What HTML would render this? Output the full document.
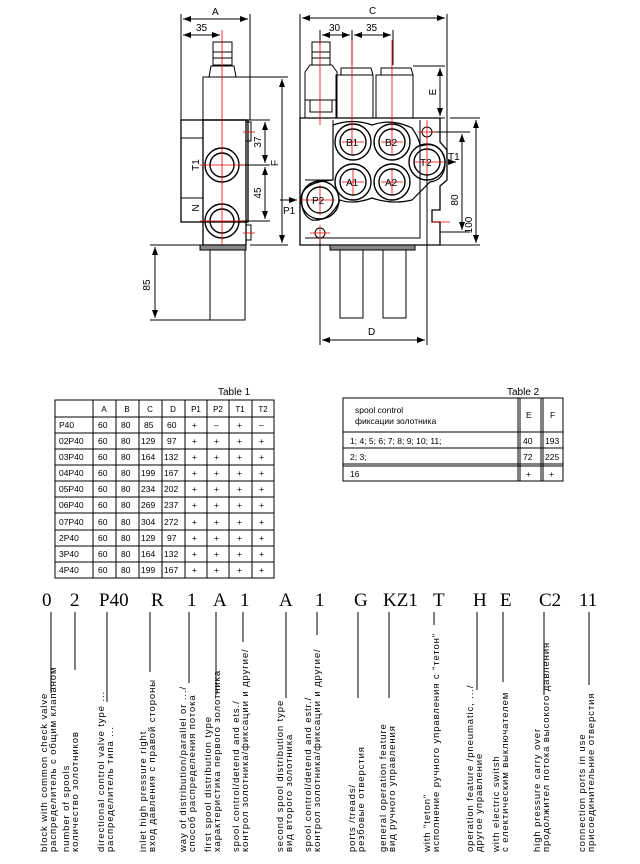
<!DOCTYPE html>
<html><head><meta charset="utf-8"><style>
html,body{margin:0;padding:0;background:#fff}
svg{display:block}
text{font-family:"Liberation Sans","DejaVu Sans",sans-serif;fill:#000}
.code text{font-family:"Liberation Serif",serif;font-size:19px}
.r text{font-size:9.5px;letter-spacing:0.9px}
</style></head><body>
<svg width="640" height="864" viewBox="0 0 640 864" xmlns="http://www.w3.org/2000/svg">
<defs>
<marker id="ar" markerWidth="8" markerHeight="6" refX="8" refY="3" orient="auto-start-reverse"><path d="M0,0 L8,3 L0,6 z" fill="#000"/></marker>
</defs>
<g stroke="#000" stroke-width="1" fill="none">
<line x1="181" y1="14" x2="181" y2="120"/><line x1="250" y1="14" x2="250" y2="77"/>
<line x1="183" y1="19" x2="248" y2="19" marker-start="url(#ar)" marker-end="url(#ar)"/>
<line x1="183" y1="35" x2="220" y2="35" marker-start="url(#ar)" marker-end="url(#ar)"/>
<rect x="213" y="42" width="19" height="23"/><line x1="213" y1="52" x2="232" y2="52"/><line x1="213" y1="58" x2="232" y2="58"/>
<path d="M209,77 L211,66 L234,66 L236,77"/>
<rect x="203" y="77" width="47" height="43"/>
<rect x="181" y="120" width="67" height="102" stroke-width="1.3"/>
<rect x="203" y="120" width="43" height="125" stroke-width="1.3"/>
<line x1="181" y1="138" x2="203" y2="138"/><line x1="181" y1="198" x2="203" y2="198"/>
<rect x="246" y="122" width="5" height="19"/><rect x="246" y="225" width="5" height="15"/>
<circle cx="222" cy="165" r="17" stroke-width="1.4"/><circle cx="222" cy="165" r="12" stroke-width="1.4"/>
<circle cx="222" cy="221" r="17" stroke-width="1.4"/><circle cx="222" cy="221" r="12" stroke-width="1.4"/>
<rect x="200" y="245" width="46" height="5" fill="#888"/>
<rect x="210" y="250" width="35" height="70"/>
<line x1="150" y1="245" x2="200" y2="245"/><line x1="150" y1="320" x2="210" y2="320"/>
<line x1="155" y1="247" x2="155" y2="318" marker-start="url(#ar)" marker-end="url(#ar)"/>
<line x1="250" y1="77" x2="288" y2="77"/><line x1="250" y1="245" x2="288" y2="245"/>
<line x1="282" y1="79" x2="282" y2="243" marker-start="url(#ar)" marker-end="url(#ar)"/>
<line x1="250" y1="120" x2="270" y2="120"/><line x1="240" y1="165" x2="270" y2="165"/><line x1="240" y1="221" x2="270" y2="221"/>
<line x1="265" y1="122" x2="265" y2="163" marker-start="url(#ar)" marker-end="url(#ar)"/>
<line x1="265" y1="167" x2="265" y2="219" marker-start="url(#ar)" marker-end="url(#ar)"/>

<line x1="300" y1="14" x2="300" y2="118"/><line x1="447" y1="14" x2="447" y2="150"/>
<line x1="302" y1="18" x2="445" y2="18" marker-start="url(#ar)" marker-end="url(#ar)"/>
<line x1="320" y1="30" x2="320" y2="45"/><line x1="352" y1="30" x2="352" y2="65"/><line x1="393" y1="30" x2="393" y2="65"/>
<line x1="322" y1="35" x2="350" y2="35" marker-start="url(#ar)" marker-end="url(#ar)"/>
<line x1="354" y1="35" x2="391" y2="35" marker-start="url(#ar)" marker-end="url(#ar)"/>
<rect x="312" y="42" width="18" height="23"/><line x1="312" y1="52" x2="330" y2="52"/><line x1="312" y1="58" x2="330" y2="58"/>
<path d="M305,100 L305,72 L310,65 L332,65 L337,72 L337,118"/>
<rect x="305" y="100" width="32" height="18"/><rect x="310" y="100" width="22" height="12"/>
<rect x="336" y="75" width="37" height="43"/><path d="M341,75 L341,68 L371,68 L373,75"/>
<rect x="376" y="75" width="37" height="43"/><path d="M381,75 L381,68 L411,68 L413,75"/>
<line x1="413" y1="66" x2="445" y2="66"/><line x1="413" y1="118" x2="445" y2="118"/>
<line x1="440" y1="68" x2="440" y2="116" marker-start="url(#ar)" marker-end="url(#ar)"/>
<path d="M300,118 L440,118 L440,142 L447,150 L447,180 L440,186 L440,210 L432,210 L432,222 L440,222 L440,245 L300,245 Z" stroke-width="1.3"/>
<path d="M305,180 L333,180 L333,120 M305,238 L420,238 L420,120"/>
<path d="M333,125 Q353,118 372,125 Q392,118 412,128 Q420,140 420,146 Q440,140 445,160 Q446,180 430,182 L412,200 Q392,205 372,198 Q353,205 340,200 Q330,222 312,220 Q300,215 302,195 Q305,182 333,180 Z" stroke-width="1.2"/>
<g stroke-width="1.4">
<circle cx="353" cy="142" r="18"/><circle cx="353" cy="142" r="13"/>
<circle cx="392" cy="142" r="18"/><circle cx="392" cy="142" r="13"/>
<circle cx="353" cy="182" r="18"/><circle cx="353" cy="182" r="13"/>
<circle cx="392" cy="182" r="18"/><circle cx="392" cy="182" r="13"/>
<circle cx="427" cy="162" r="18"/><circle cx="427" cy="162" r="13"/>
<circle cx="320" cy="200" r="19"/><circle cx="320" cy="200" r="13"/>
</g>
<circle cx="427" cy="132" r="5"/><circle cx="320" cy="233" r="5"/>
<rect x="330" y="245" width="85" height="5" fill="#888"/>
<rect x="340" y="250" width="23" height="68"/><rect x="383" y="250" width="23" height="68"/>
<line x1="320" y1="238" x2="320" y2="345"/><line x1="427" y1="175" x2="427" y2="345"/>
<line x1="322" y1="340" x2="425" y2="340" marker-start="url(#ar)" marker-end="url(#ar)"/>
<line x1="430" y1="132" x2="470" y2="132"/><line x1="440" y1="232" x2="470" y2="232"/>
<line x1="450" y1="118" x2="480" y2="118"/><line x1="440" y1="245" x2="480" y2="245"/>
<line x1="462" y1="134" x2="462" y2="230" marker-start="url(#ar)" marker-end="url(#ar)"/>
<line x1="476" y1="120" x2="476" y2="243" marker-start="url(#ar)" marker-end="url(#ar)"/>
<line x1="280" y1="200" x2="297" y2="200" marker-end="url(#ar)"/>
<line x1="448" y1="162" x2="456" y2="162" marker-end="url(#ar)"/>
</g>
<g stroke="#e00" stroke-width="0.8">
<line x1="222" y1="30" x2="222" y2="245"/><line x1="200" y1="165" x2="245" y2="165"/><line x1="200" y1="221" x2="245" y2="221"/>
<line x1="243" y1="132" x2="255" y2="132"/><line x1="243" y1="233" x2="255" y2="233"/>
<line x1="320" y1="40" x2="320" y2="125"/><line x1="352" y1="40" x2="352" y2="155"/><line x1="392" y1="40" x2="392" y2="155"/>
<line x1="342" y1="142" x2="364" y2="142"/><line x1="381" y1="142" x2="403" y2="142"/>
<line x1="353" y1="170" x2="353" y2="195"/><line x1="342" y1="182" x2="364" y2="182"/>
<line x1="392" y1="170" x2="392" y2="195"/><line x1="381" y1="182" x2="403" y2="182"/>
<line x1="427" y1="120" x2="427" y2="175"/><line x1="415" y1="162" x2="445" y2="162"/><line x1="418" y1="132" x2="436" y2="132"/>
<line x1="320" y1="185" x2="320" y2="215"/><line x1="300" y1="200" x2="335" y2="200"/>
<line x1="320" y1="225" x2="320" y2="242"/><line x1="310" y1="233" x2="330" y2="233"/>
<line x1="432" y1="222" x2="450" y2="222"/>
</g>
<g font-size="10">
<text x="212" y="15">A</text><text x="196" y="31">35</text>
<text x="369" y="14">C</text><text x="329" y="31">30</text><text x="366" y="31">35</text>
<text x="368" y="335">D</text>
<text x="199" y="165" transform="rotate(-90 199 165)" text-anchor="middle">T1</text>
<text x="199" y="208" transform="rotate(-90 199 208)" text-anchor="middle">N</text>
<text x="150" y="285" transform="rotate(-90 150 285)" text-anchor="middle">85</text>
<text x="278" y="163" transform="rotate(-90 278 163)" text-anchor="middle">F</text>
<text x="261" y="142" transform="rotate(-90 261 142)" text-anchor="middle">37</text>
<text x="261" y="193" transform="rotate(-90 261 193)" text-anchor="middle">45</text>
<text x="436" y="92" transform="rotate(-90 436 92)" text-anchor="middle">E</text>
<text x="458" y="200" transform="rotate(-90 458 200)" text-anchor="middle">80</text>
<text x="472" y="225" transform="rotate(-90 472 225)" text-anchor="middle">100</text>
<text x="346" y="146">B1</text><text x="385" y="146">B2</text><text x="346" y="186">A1</text><text x="385" y="186">A2</text>
<text x="420" y="166">T2</text><text x="312" y="204">P2</text>
<text x="283" y="214">P1</text><text x="448" y="160">T1</text>
</g>

<text x="218" y="395" font-size="10">Table 1</text>
<g stroke="#000" stroke-width="1" fill="none">
<rect x="55" y="400" width="219" height="178"/>
<line x1="93" y1="400" x2="93" y2="578"/><line x1="116" y1="400" x2="116" y2="578"/><line x1="139" y1="400" x2="139" y2="578"/>
<line x1="162" y1="400" x2="162" y2="578"/><line x1="185" y1="400" x2="185" y2="578"/><line x1="207" y1="400" x2="207" y2="578"/>
<line x1="229" y1="400" x2="229" y2="578"/><line x1="252" y1="400" x2="252" y2="578"/>
<line x1="55" y1="417" x2="274" y2="417"/><line x1="55" y1="433" x2="274" y2="433"/><line x1="55" y1="449" x2="274" y2="449"/>
<line x1="55" y1="465" x2="274" y2="465"/><line x1="55" y1="481" x2="274" y2="481"/><line x1="55" y1="497" x2="274" y2="497"/>
<line x1="55" y1="513" x2="274" y2="513"/><line x1="55" y1="530" x2="274" y2="530"/><line x1="55" y1="546" x2="274" y2="546"/>
<line x1="55" y1="562" x2="274" y2="562"/>
</g>
<g font-size="8" text-anchor="middle">
<text x="104" y="412">A</text><text x="127" y="412">B</text><text x="150" y="412">C</text><text x="173" y="412">D</text><text x="196" y="412">P1</text><text x="218" y="412">P2</text><text x="240" y="412">T1</text><text x="263" y="412">T2</text>
</g>
<g font-size="8.5">
<text y="428"><tspan x="59">P40</tspan><tspan x="98">60</tspan><tspan x="121">80</tspan><tspan x="144">85</tspan><tspan x="167">60</tspan><tspan x="192">+</tspan><tspan x="214">–</tspan><tspan x="237">+</tspan><tspan x="259">–</tspan></text>
<text y="444"><tspan x="59">02P40</tspan><tspan x="98">60</tspan><tspan x="121">80</tspan><tspan x="141">129</tspan><tspan x="167">97</tspan><tspan x="192">+</tspan><tspan x="214">+</tspan><tspan x="237">+</tspan><tspan x="259">+</tspan></text>
<text y="460"><tspan x="59">03P40</tspan><tspan x="98">60</tspan><tspan x="121">80</tspan><tspan x="141">164</tspan><tspan x="164">132</tspan><tspan x="192">+</tspan><tspan x="214">+</tspan><tspan x="237">+</tspan><tspan x="259">+</tspan></text>
<text y="476"><tspan x="59">04P40</tspan><tspan x="98">60</tspan><tspan x="121">80</tspan><tspan x="141">199</tspan><tspan x="164">167</tspan><tspan x="192">+</tspan><tspan x="214">+</tspan><tspan x="237">+</tspan><tspan x="259">+</tspan></text>
<text y="492"><tspan x="59">05P40</tspan><tspan x="98">60</tspan><tspan x="121">80</tspan><tspan x="141">234</tspan><tspan x="164">202</tspan><tspan x="192">+</tspan><tspan x="214">+</tspan><tspan x="237">+</tspan><tspan x="259">+</tspan></text>
<text y="508"><tspan x="59">06P40</tspan><tspan x="98">60</tspan><tspan x="121">80</tspan><tspan x="141">269</tspan><tspan x="164">237</tspan><tspan x="192">+</tspan><tspan x="214">+</tspan><tspan x="237">+</tspan><tspan x="259">+</tspan></text>
<text y="525"><tspan x="59">07P40</tspan><tspan x="98">60</tspan><tspan x="121">80</tspan><tspan x="141">304</tspan><tspan x="164">272</tspan><tspan x="192">+</tspan><tspan x="214">+</tspan><tspan x="237">+</tspan><tspan x="259">+</tspan></text>
<text y="541"><tspan x="59">2P40</tspan><tspan x="98">60</tspan><tspan x="121">80</tspan><tspan x="141">129</tspan><tspan x="167">97</tspan><tspan x="192">+</tspan><tspan x="214">+</tspan><tspan x="237">+</tspan><tspan x="259">+</tspan></text>
<text y="557"><tspan x="59">3P40</tspan><tspan x="98">60</tspan><tspan x="121">80</tspan><tspan x="141">164</tspan><tspan x="164">132</tspan><tspan x="192">+</tspan><tspan x="214">+</tspan><tspan x="237">+</tspan><tspan x="259">+</tspan></text>
<text y="573"><tspan x="59">4P40</tspan><tspan x="98">60</tspan><tspan x="121">80</tspan><tspan x="141">199</tspan><tspan x="164">167</tspan><tspan x="192">+</tspan><tspan x="214">+</tspan><tspan x="237">+</tspan><tspan x="259">+</tspan></text>
</g>

<text x="507" y="395" font-size="10">Table 2</text>
<g stroke="#000" stroke-width="1" fill="none">
<rect x="343" y="398" width="220" height="83"/>
<line x1="518" y1="398" x2="518" y2="481"/><line x1="520" y1="398" x2="520" y2="481"/>
<line x1="541" y1="398" x2="541" y2="481"/><line x1="543" y1="398" x2="543" y2="481"/>
<line x1="343" y1="432" x2="563" y2="432"/><line x1="343" y1="448" x2="563" y2="448"/>
<line x1="343" y1="464" x2="563" y2="464"/><line x1="343" y1="466" x2="563" y2="466"/>
</g>
<g font-size="8.5">
<text x="355" y="413">spool control</text><text x="355" y="424">фиксации золотника</text>
<text x="526" y="418">E</text><text x="550" y="418">F</text>
<text x="350" y="444">1;  4;  5;  6;  7;  8;  9;  10;  11;</text><text x="523" y="444">40</text><text x="545" y="444">193</text>
<text x="350" y="460">2;  3;</text><text x="523" y="460">72</text><text x="545" y="460">225</text>
<text x="350" y="477">16</text><text x="526" y="477">+</text><text x="549" y="477">+</text>
</g>

<g class="code">
<text x="42" y="606">0</text><text x="70" y="606">2</text><text x="99" y="606">P40</text><text x="151" y="606">R</text>
<text x="187" y="606">1</text><text x="213" y="606">A</text><text x="240" y="606">1</text><text x="279" y="606">A</text>
<text x="315" y="606">1</text><text x="354" y="606">G</text><text x="383" y="606">KZ1</text><text x="433" y="606">T</text>
<text x="473" y="606">H</text><text x="500" y="606">E</text><text x="539" y="606">C2</text><text x="579" y="606">11</text>
</g>
<g stroke="#000" stroke-width="1">
<line x1="51" y1="612" x2="51" y2="693"/><line x1="75" y1="612" x2="75" y2="670"/>
<line x1="107" y1="612" x2="107" y2="702"/><line x1="150" y1="612" x2="150" y2="672"/>
<line x1="189" y1="612" x2="189" y2="683"/><line x1="216" y1="612" x2="216" y2="695"/>
<line x1="243" y1="612" x2="243" y2="642"/><line x1="286" y1="612" x2="286" y2="698"/>
<line x1="317" y1="612" x2="317" y2="635"/><line x1="358" y1="612" x2="358" y2="698"/>
<line x1="389" y1="612" x2="389" y2="698"/><line x1="434" y1="612" x2="434" y2="625"/>
<line x1="477" y1="612" x2="477" y2="690"/><line x1="503" y1="612" x2="503" y2="682"/>
<line x1="544" y1="612" x2="544" y2="695"/><line x1="589" y1="612" x2="589" y2="685"/>
</g>
<g class="r">
<text transform="translate(47,852) rotate(-90)">block with common check valve</text>
<text transform="translate(56,852) rotate(-90)">распределитель с общим клапаном</text>
<text transform="translate(69,852) rotate(-90)">number of spools</text>
<text transform="translate(78,852) rotate(-90)">количество золотников</text>
<text transform="translate(104,852) rotate(-90)">directional control valve type ...</text>
<text transform="translate(113,852) rotate(-90)">распределитель типа ...</text>
<text transform="translate(146,852) rotate(-90)">inlet high pressure   right</text>
<text transform="translate(155,852) rotate(-90)">вход давления с правой стороны</text>
<text transform="translate(186,852) rotate(-90)">way of distribution/parallel or .../</text>
<text transform="translate(195,852) rotate(-90)">способ распределения потока</text>
<text transform="translate(211,852) rotate(-90)">first spool distribution type</text>
<text transform="translate(220,852) rotate(-90)">характеристика первого золотника</text>
<text transform="translate(239,852) rotate(-90)">spool control/detend and ets./</text>
<text transform="translate(248,852) rotate(-90)">контрол золотника/фиксации и другие/</text>
<text transform="translate(283,852) rotate(-90)">second spool distribution type</text>
<text transform="translate(292,852) rotate(-90)">вид второго золотника</text>
<text transform="translate(311,852) rotate(-90)">spool control/detend and estr./</text>
<text transform="translate(320,852) rotate(-90)">контрол золотника/фиксации и другие/</text>
<text transform="translate(355,852) rotate(-90)">ports /treads/</text>
<text transform="translate(364,852) rotate(-90)">резбовые отверстия</text>
<text transform="translate(386,852) rotate(-90)">general operation feature</text>
<text transform="translate(395,852) rotate(-90)">вид ручного управления</text>
<text transform="translate(430,852) rotate(-90)">with "teton"</text>
<text transform="translate(439,852) rotate(-90)">исполнение ручного управления с "тетон"</text>
<text transform="translate(473,852) rotate(-90)">operation feature /pneumatic, .../</text>
<text transform="translate(482,852) rotate(-90)">другое управление</text>
<text transform="translate(499,852) rotate(-90)">with electric switsh</text>
<text transform="translate(508,852) rotate(-90)">с електическим выключателем</text>
<text transform="translate(540,852) rotate(-90)">high pressure carry over</text>
<text transform="translate(549,852) rotate(-90)">продолжител потока высокого давления</text>
<text transform="translate(585,852) rotate(-90)">connection ports in use</text>
<text transform="translate(594,852) rotate(-90)">присоединительние отверстия</text>
</g>
</svg>
</body></html>
